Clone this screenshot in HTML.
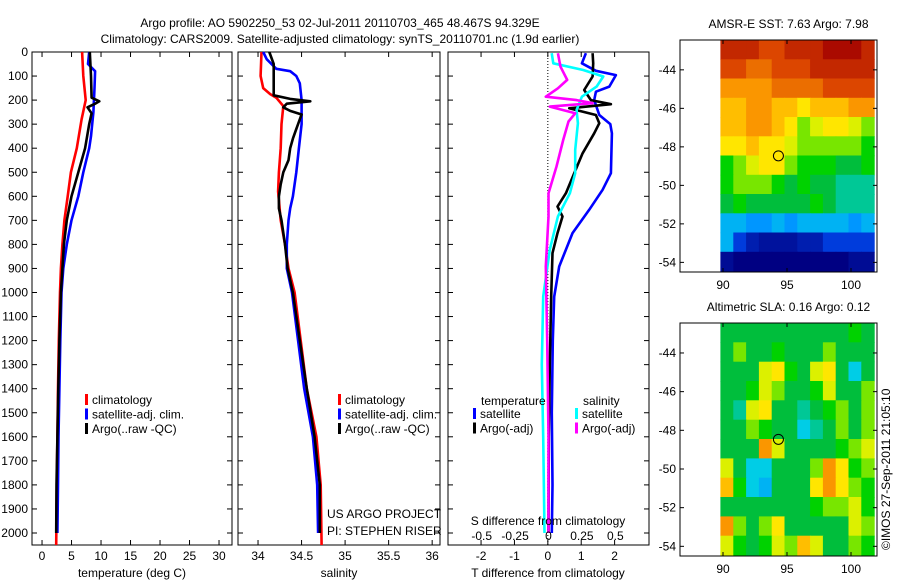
<!DOCTYPE html>
<html><head><meta charset="utf-8"><style>
html,body{margin:0;padding:0;background:#fff;}
svg{display:block;font-family:"Liberation Sans",sans-serif;}
text{font-size:12px;fill:#000;}
</style></head><body>
<svg id="fig" width="900" height="580" viewBox="0 0 900 580">
<text x="340" y="27" text-anchor="middle">Argo profile: AO 5902250_53 02-Jul-2011 20110703_465 48.467S 94.329E</text>
<text x="340" y="43" text-anchor="middle">Climatology: CARS2009. Satellite-adjusted climatology: synTS_20110701.nc (1.9d earlier)</text>
<g id="g"></g>
</svg>
<script>
// ---------- data ----------
const tempClimDepth=[0,100,200,280,400,500,600,700,800,900,1000,1200,1400,1600,1800,2050];
const tempClim=[6.8,7.0,7.4,6.7,5.9,4.9,4.35,3.8,3.45,3.2,3.05,2.85,2.7,2.6,2.5,2.4];
const tempSatDepth=[0,50,80,150,250,350,400,500,600,700,800,900,1000,1200,1400,1600,1800,2000];
const tempSat=[8.0,7.8,9.0,8.9,8.7,8.3,8.0,7.0,6.15,5.0,4.2,3.6,3.3,3.1,2.95,2.8,2.7,2.6];
const tempArgoDepth=[0,100,190,205,215,230,255,300,400,500,600,700,800,900,1000,1200,1400,1600,1800,2000];
const tempArgo=[8.1,8.3,8.4,9.7,9.0,7.7,8.4,8.0,7.3,6.15,5.0,4.2,3.7,3.45,3.2,2.95,2.75,2.6,2.45,2.4];

const salClimDepth=[0,100,150,175,190,225,300,400,500,580,700,800,900,1000,1200,1400,1600,1800,2050];
const salClim=[34.04,34.03,34.06,34.14,34.21,34.29,34.27,34.26,34.24,34.23,34.26,34.31,34.35,34.42,34.49,34.56,34.67,34.72,34.73];
const salSatDepth=[0,30,70,80,100,130,200,300,400,500,600,650,700,800,900,1000,1200,1400,1600,1800,2000];
const salSat=[34.06,34.1,34.21,34.37,34.44,34.48,34.5,34.5,34.47,34.44,34.4,34.37,34.35,34.33,34.33,34.39,34.46,34.53,34.63,34.68,34.69];
const salArgoDepth=[0,50,100,180,195,205,215,230,245,260,280,320,360,400,450,500,550,600,650,700,800,900,1000,1200,1400,1600,1800,2000];
const salArgo=[34.13,34.18,34.18,34.18,34.37,34.6,34.33,34.29,34.37,34.5,34.48,34.44,34.4,34.37,34.35,34.29,34.26,34.24,34.24,34.27,34.31,34.34,34.4,34.48,34.56,34.65,34.71,34.71];

const dTSatDepth=[5,47,78,96,144,165,200,262,300,338,504,573,656,753,892,1017,1200,1500,1800,2000];
const dTSat=[1.14,1.02,1.44,2.04,1.84,1.44,1.39,1.54,1.87,1.92,1.89,1.64,1.24,0.74,0.34,0.19,0.15,0.12,0.14,0.12];
const dTArgoDepth=[5,47,102,158,200,217,234,262,296,338,421,504,587,643,684,753,836,1017,1300,1600,2000];
const dTArgo=[1.34,1.36,1.34,1.09,1.29,1.89,0.64,1.44,1.54,1.39,1.04,0.79,0.54,0.29,0.44,0.29,0.14,0.1,0.06,0.03,0.02];
const dSSatDepth=[5,47,75,102,144,186,241,296,407,504,587,684,822,1017,1300,1600,2000];
const dSSat=[0.024,0.036,0.26,0.41,0.36,0.25,0.21,0.22,0.2,0.2,0.16,0.07,0.01,-0.04,-0.05,-0.04,-0.03];
const dSArgoDepth=[5,61,116,151,186,200,213,227,255,289,366,476,587,684,892,1200,1600,2000];
const dSArgo=[0.07,0.09,0.14,0.07,-0.02,0.21,0.33,0.01,0.2,0.15,0.11,0.06,0,0,-0.02,-0.01,0,0];

const depthTicks=[0,100,200,300,400,500,600,700,800,900,1000,1100,1200,1300,1400,1500,1600,1700,1800,1900,2000];
const tempTicks=[0,5,10,15,20,25,30];
const salTicks=[34,34.5,35,35.5,36];
const salTickLabels=["34","34.5","35","35.5","36"];
const tdTicks=[-2,-1,0,1,2];
const sdTicks=[-0.5,-0.25,0,0.25,0.5];
const sdTickLabels=["-0.5","-0.25","0","0.25","0.5"];
const latTicks=[-44,-46,-48,-50,-52,-54];
const lonTicks=[90,95,100];

// map grids: rows from -42.5 (north) to -54.5, cols from 90 to 102 (1 deg cells)
const sstGrid=[
[9.5,9.5,9.5,9,9,9.5,9.5,9.5,10,10,10,9.5],
[9,9,8.5,8.5,9,9,9,9.5,9.5,9.5,9.5,9.5],
[8,8,8,8,8.5,8.5,8.5,8.5,9,9,9,9],
[7.5,7.5,8,8,7.5,7.5,7,7.5,7.5,7.5,8,8],
[7.5,7.5,8,8,7.5,7,6,6.5,7,7,6.5,6],
[7,7,7.5,7,7,6.5,6,6,6,6,6,5.5],
[5.5,6,6.5,7,7,6,5.5,5.5,5.5,5,5,5.5],
[5.5,6,6,6,5.5,5,5.5,5,5,4.5,4.5,4.5],
[5,5.5,5,5,5,5,5,5.5,5,4.5,4.5,4.5],
[3.5,3.5,3,3,3.5,3,3.5,3.5,3.5,3.5,3,3.5],
[3.5,2,1.5,1.3,1.3,1.3,1.5,1.5,2,2,2,2],
[1.2,1,1,1,1,1,1,1,1,1,1.2,1.2]];
const slaGrid=[
[5,5,5,5,5,5,5,5,5,5,5.5,5],
[5,6,5,5,5.5,5,5,5,6,5,5,5],
[5,5,5,6.5,7,5.5,5,6.5,7,5,4,5],
[5,5,5.5,6.5,6,5,5,5.5,6.5,5,5,6],
[5,4.5,6.5,7,5,5,4.5,5,5.5,6,5,6],
[5,5,6,5.5,5,5,4,4.5,5,6,5,6],
[5,5,5,8,6.5,5,5,5,5,5.5,6,6.5],
[6.5,5,4,4,5,5,5,6,8,7,5.5,6],
[7.5,5.5,4,3.5,5,5,5,7,8,7,6,5.5],
[5,5,5,5,5,5,5,5.5,6,6,6.5,5.5],
[8,6,5,6,7,5,5,5,5,5,6.5,6],
[6.5,5.5,5,5.5,6.5,6,7.5,6.5,5,5,6,5.5]];
const argoLon=94.329, argoLat=-48.467;

// ---------- drawing ----------
const NS="http://www.w3.org/2000/svg";
const G=document.getElementById('g');
function el(tag,attrs,parent){const e=document.createElementNS(NS,tag);for(const k in attrs)e.setAttribute(k,attrs[k]);(parent||G).appendChild(e);return e;}
function txt(x,y,s,anchor,parent){const t=el('text',{x:x,y:y,'text-anchor':anchor||'start'},parent);t.textContent=s;return t;}

const Y0=52, PXM=0.2405, YB=545;
const yD=d=>Y0+d*PXM;

function panel(name,x0,x1,vmin,vmax,leftLabels){
  const g=el('g',{});
  
  
  const xs=v=>x0+(v-vmin)/(vmax-vmin)*(x1-x0);
  const r=el('rect',{x:x0,y:Y0,width:x1-x0,height:YB-Y0,fill:'#fff',stroke:'#000','stroke-width':1},g);
  
  
  depthTicks.forEach(d=>{
    el('line',{x1:x0,x2:x0+5,y1:yD(d),y2:yD(d),stroke:'#000'},g);
    el('line',{x1:x1,x2:x1-5,y1:yD(d),y2:yD(d),stroke:'#000'},g);
    if(leftLabels){const t=txt(x0-4,yD(d)+4,String(d),'end',g);
      
      }
  });
  return {g,xs};
}
function line(g,xs,vals,depths,color,name){
  const pts=vals.map((v,i)=>xs(v).toFixed(1)+','+yD(depths[i]).toFixed(1)).join(' ');
  const p=el('polyline',{points:pts,fill:'none',stroke:color,'stroke-width':2.6,'stroke-linejoin':'round'},g);
  
  
}
function xticks(g,xs,ticks,labels,yl,top){
  ticks.forEach((t,i)=>{
    el('line',{x1:xs(t),x2:xs(t),y1:YB,y2:YB-5,stroke:'#000'},g);
    if(top)el('line',{x1:xs(t),x2:xs(t),y1:Y0,y2:Y0+5,stroke:'#000'},g);
    const l=txt(xs(t),yl,labels?labels[i]:String(t),'middle',g);
    
    
  });
}
function legend(g,x,items,y0){
  items.forEach((it,i)=>{
    const y=y0+i*14.5;
    el('rect',{x:x,y:y-10,width:3,height:11,fill:it[0]},g);
    const t=txt(x+7,y,it[1],'start',g);
    
    
  });
}

// Panel 1: temperature
let P=panel('temperature-panel',32,232,-1.7,32.2,true);
xticks(P.g,P.xs,tempTicks,null,560,true);
line(P.g,P.xs,tempClim,tempClimDepth,'#f00','temp-climatology-line');
line(P.g,P.xs,tempSat,tempSatDepth,'#00f','temp-satellite-line');
line(P.g,P.xs,tempArgo,tempArgoDepth,'#000','temp-argo-line');
legend(P.g,85,[['#f00','climatology'],['#00f','satellite-adj. clim.'],['#000','Argo(..raw -QC)']],404);
let t=txt(132,577,'temperature (deg C)','middle',P.g);



// Panel 2: salinity
P=panel('salinity-panel',238,440,33.77,36.09,false);
xticks(P.g,P.xs,salTicks,salTickLabels,560,true);
line(P.g,P.xs,salClim,salClimDepth,'#f00','sal-climatology-line');
line(P.g,P.xs,salSat,salSatDepth,'#00f','sal-satellite-line');
line(P.g,P.xs,salArgo,salArgoDepth,'#000','sal-argo-line');
legend(P.g,338,[['#f00','climatology'],['#00f','satellite-adj. clim.'],['#000','Argo(..raw -QC)']],404);
t=txt(339,577,'salinity','middle',P.g);


t=txt(327,518,'US ARGO PROJECT','start',P.g);


t=txt(327,535,'PI: STEPHEN RISER','start',P.g);



// Panel 3: differences
P=panel('difference-panel',448,649,-2.99,3.03,false);
const xsS=v=>548.5+v*133.6;
xticks(P.g,P.xs,tdTicks,null,560,true);
el('line',{x1:P.xs(0),x2:P.xs(0),y1:Y0,y2:YB,stroke:'#000','stroke-dasharray':'1,2'},P.g);
line(P.g,P.xs,dTSat,dTSatDepth,'#00f','tdiff-satellite-line');
line(P.g,P.xs,dTArgo,dTArgoDepth,'#000','tdiff-argo-line');
line(P.g,xsS,dSSat,dSSatDepth,'#0ff','sdiff-satellite-line');
line(P.g,xsS,dSArgo,dSArgoDepth,'#f0f','sdiff-argo-line');
t=txt(481,405,'temperature','start',P.g);
t=txt(583,405,'salinity','start',P.g);
legend(P.g,473,[['#00f','satellite'],['#000','Argo(-adj)']],418);
legend(P.g,575,[['#0ff','satellite'],['#f0f','Argo(-adj)']],418);
t=txt(548,525,'S difference from climatology','middle',P.g);
sdTicks.forEach((v,i)=>{const l=txt(xsS(v),540,sdTickLabels[i],'middle',P.g);
  
  });
t=txt(548,577,'T difference from climatology','middle',P.g);

// colormap (jet-like, matched to reference)
const cmapStops=[[1,[0,0,130]],[2,[0,60,220]],[3,[0,150,255]],[4,[0,205,230]],[4.5,[0,200,150]],[5,[0,190,60]],[5.5,[0,210,0]],[6,[120,230,0]],[6.5,[220,240,0]],[7,[255,230,0]],[7.5,[255,190,0]],[8,[250,150,0]],[9,[220,70,0]],[10,[170,10,0]]];
function cmap(v){
  if(v<=cmapStops[0][0])return 'rgb('+cmapStops[0][1].join(',')+')';
  for(let i=1;i<cmapStops.length;i++){
    if(v<=cmapStops[i][0]){const a=cmapStops[i-1],b=cmapStops[i],f=(v-a[0])/(b[0]-a[0]);
      return 'rgb('+a[1].map((c,k)=>Math.round(c+(b[1][k]-c)*f)).join(',')+')';}
  }
  return 'rgb('+cmapStops[cmapStops.length-1][1].join(',')+')';
}

function map(name,top,bottom,title,grid){
  const g=el('g',{});
  
  
  const L=680,R=877,lon0=86.64,lon1=102.03,latTop=-42.45,latBot=-54.5;
  const xs=v=>L+(v-lon0)/(lon1-lon0)*(R-L);
  const ys=v=>top+(latTop-v)/(latTop-latBot)*(bottom-top);
  grid.forEach((row,ri)=>row.forEach((v,ci)=>{
    const la=latTop-ri, lo=89.8+ci;
    const c=el('rect',{x:xs(lo).toFixed(1),y:ys(la).toFixed(1),width:(Math.min(xs(lo+1),R)-xs(lo)+0.6).toFixed(1),height:(ys(la-1)-ys(la)+0.6).toFixed(1),fill:cmap(v)},g);
    
    
  }));
  el('rect',{x:L,y:top,width:R-L,height:bottom-top,fill:'none',stroke:'#000'},g);
  latTicks.forEach(v=>{el('line',{x1:L,x2:L+4,y1:ys(v),y2:ys(v),stroke:'#000'},g);
    el('line',{x1:R,x2:R-4,y1:ys(v),y2:ys(v),stroke:'#000'},g);
    const l=txt(L-4,ys(v)+4,String(v),'end',g);
    
    });
  lonTicks.forEach(v=>{el('line',{x1:xs(v),x2:xs(v),y1:bottom,y2:bottom-4,stroke:'#000'},g);
    el('line',{x1:xs(v),x2:xs(v),y1:top,y2:top+4,stroke:'#000'},g);
    const l=txt(xs(v),bottom+17,String(v),'middle',g);
    
    });
  const c=el('circle',{cx:xs(argoLon),cy:ys(argoLat),r:5,fill:'none',stroke:'#000'},g);
  
  
  const tt=txt((L+R)/2+10,top-12,title,'middle',g);
  
  
}
map('sst-map',40,272,'AMSR-E SST: 7.63 Argo: 7.98',sstGrid);
map('sla-map',323,556,'Altimetric SLA: 0.16 Argo: 0.12',slaGrid);
t=txt(0,0,'©IMOS 27-Sep-2011 21:05:10','start');
t.setAttribute('transform','translate(890,550) rotate(-90)');


</script>
</body></html>
